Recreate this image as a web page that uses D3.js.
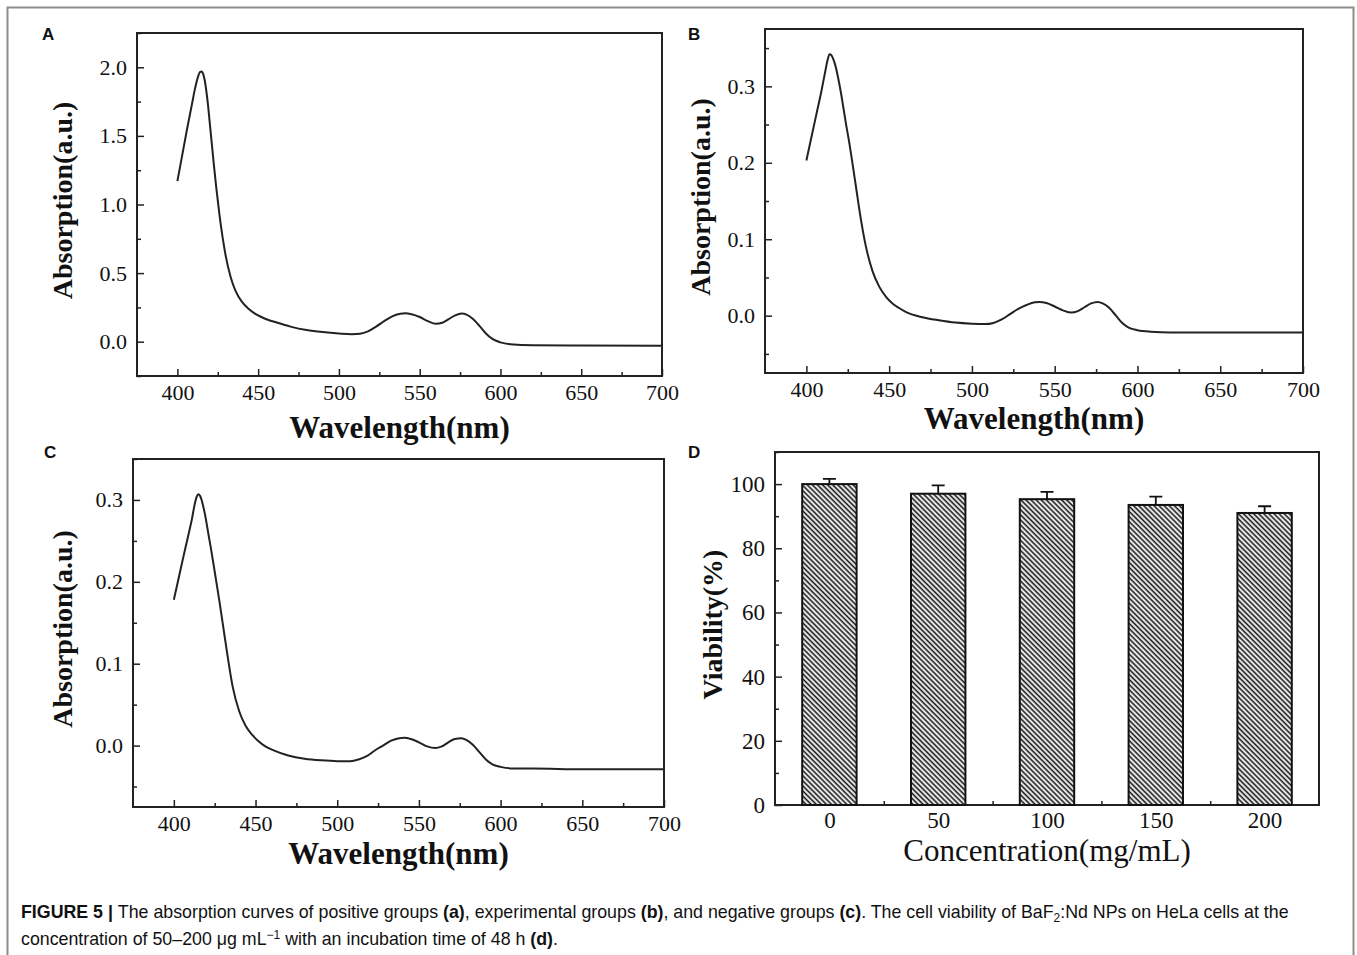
<!DOCTYPE html>
<html>
<head>
<meta charset="utf-8">
<script src="https://cdn.jsdelivr.net/npm/d3@7"></script>
<style>
body { margin: 0; background: #fff; }
svg text { font-family: "Liberation Serif", "Times New Roman", serif; fill: #111; }
svg text.sans { font-family: "Liberation Sans", Arial, sans-serif; }
</style>
</head>
<body>
<div id="figure"></div>
<script>
// wavelength grid shared by the three absorption spectra (nm)
const wavelengths = [400,403,406,409,411,413,414,415,416,417,418,419,420,421,422.5,424,426,428,430,
  433,436,440,444,448,452,456,460,470,480,490,500,508,513,518,523,528,533,538,541,545,550,555,560,
  564,568,572,576,579,583,587,591,595,600,608,620,650,700];

// positive group
const absorptionA = [1.17,1.36,1.55,1.73,1.85,1.94,1.965,1.97,1.95,1.90,1.82,1.72,1.60,1.48,1.30,1.13,0.93,0.76,0.62,
  0.47,0.37,0.29,0.24,0.205,0.18,0.16,0.145,0.11,0.085,0.07,0.06,0.055,0.058,0.075,0.11,0.15,0.185,0.203,0.207,0.2,0.18,0.15,0.13,
  0.138,0.165,0.192,0.205,0.197,0.165,0.115,0.06,0.02,-0.005,-0.02,-0.025,-0.028,-0.03];

// experimental group
const absorptionB = [0.203,0.233,0.263,0.293,0.315,0.336,0.342,0.341,0.337,0.331,0.323,0.313,0.302,0.29,0.27,0.25,0.225,0.197,0.168,
  0.125,0.09,0.058,0.038,0.025,0.016,0.01,0.005,-0.002,-0.006,-0.009,-0.0105,-0.011,-0.0095,-0.005,0.002,0.009,0.014,0.0175,0.018,0.0165,0.012,0.007,0.004,
  0.006,0.011,0.016,0.018,0.016,0.01,0.0,-0.01,-0.016,-0.019,-0.021,-0.022,-0.022,-0.022];

// negative group
const absorptionC = [0.178,0.205,0.232,0.258,0.276,0.297,0.304,0.307,0.305,0.300,0.292,0.283,0.272,0.26,0.243,0.225,0.2,0.175,0.148,
  0.108,0.072,0.042,0.024,0.013,0.005,-0.001,-0.005,-0.012,-0.016,-0.018,-0.019,-0.019,-0.017,-0.013,-0.006,0.0,0.006,0.009,0.0095,0.008,0.004,-0.001,-0.003,
  -0.001,0.004,0.008,0.009,0.007,0.001,-0.008,-0.017,-0.023,-0.026,-0.028,-0.028,-0.029,-0.029];

// cell viability
const concentrations = [0, 50, 100, 150, 200];
const viability = [100, 97, 95.3, 93.5, 91];
const viabilityErr = [1.6, 2.6, 2.3, 2.6, 2.1];

const waveTicks = [400, 450, 500, 550, 600, 650, 700];
const waveMinor = [425, 475, 525, 575, 625, 675];
const ticksA = [0, 0.5, 1.0, 1.5, 2.0];
const minorA = [-0.25, 0.25, 0.75, 1.25, 1.75, 2.25];
const ticksBC = [0, 0.1, 0.2, 0.3];
const minorBC = [-0.05, 0.05, 0.15, 0.25, 0.35];
const viabTicks = [0, 20, 40, 60, 80, 100];
const viabMinor = [10, 30, 50, 70, 90, 110];
const concMinor = [25, 75, 125, 175];

const W = 1357, H = 955;
const svg = d3.select("#figure").append("svg")
  .attr("width", W).attr("height", H);

svg.append("rect").attr("x", 0).attr("y", 0).attr("width", W).attr("height", H).attr("fill", "#fff");
// outer figure border
svg.append("rect")
  .attr("x", 7.5).attr("y", 7.5).attr("width", 1346).attr("height", 1000)
  .attr("fill", "none").attr("stroke", "#8c8c8c").attr("stroke-width", 2);

// draws frame, inward ticks and labels, returns {g, x, y}
function makePanel(p) {
  const g = svg.append("g");
  const x = d3.scaleLinear().domain(p.xDomain).range([p.left, p.right]);
  const y = d3.scaleLinear().domain(p.yDomain).range([p.bottom, p.top]);

  g.append("g").attr("transform", "translate(0," + p.bottom + ")")
    .call(d3.axisBottom(x).tickValues(p.xTicks).tickFormat(p.xFormat)
      .tickSizeInner(-7).tickSizeOuter(0).tickPadding(p.xPad));
  g.append("g").attr("transform", "translate(0," + p.bottom + ")")
    .call(d3.axisBottom(x).tickValues(p.xMinor).tickFormat("").tickSizeInner(-4).tickSizeOuter(0));

  g.append("g").attr("transform", "translate(" + p.left + ",0)")
    .call(d3.axisLeft(y).tickValues(p.yTicks).tickFormat(p.yFormat)
      .tickSizeInner(-7).tickSizeOuter(0).tickPadding(10));
  g.append("g").attr("transform", "translate(" + p.left + ",0)")
    .call(d3.axisLeft(y).tickValues(p.yMinor).tickFormat("").tickSizeInner(-4).tickSizeOuter(0));

  g.selectAll(".domain").remove();
  g.selectAll(".tick line").attr("stroke", "#222").attr("stroke-width", 1.5);
  g.selectAll(".tick text").attr("font-family", null).style("font-size", p.tickSize + "px").attr("fill", "#222");

  g.append("rect")
    .attr("x", p.left).attr("y", p.top)
    .attr("width", p.right - p.left).attr("height", p.bottom - p.top)
    .attr("fill", "none").attr("stroke", "#222").attr("stroke-width", 2);

  g.append("text")
    .attr("transform", "translate(" + p.yLabelX + "," + ((p.top + p.bottom) / 2 - 4) + ") rotate(-90)")
    .attr("text-anchor", "middle").attr("dy", "0.35em")
    .style("font-size", p.yLabelSize + "px").style("font-weight", "bold")
    .text(p.yLabel);

  g.append("text")
    .attr("x", (p.left + p.right) / 2).attr("y", p.xLabelY)
    .attr("text-anchor", "middle")
    .style("font-size", p.xLabelSize + "px").style("font-weight", p.xLabelWeight)
    .text(p.xLabel);

  g.append("text").attr("class", "sans")
    .attr("x", p.letterX).attr("y", p.letterY)
    .style("font-size", "17px").style("font-weight", "bold")
    .text(p.letter);

  return { g: g, x: x, y: y };
}

const fmt1 = d3.format(".1f");
const spectra = [
  { letter: "A", letterX: 42, letterY: 40, left: 137, right: 662, top: 33, bottom: 376,
    yDomain: [-0.25, 2.25], yTicks: ticksA, yMinor: minorA, yLabelX: 62, xLabelY: 438, values: absorptionA },
  { letter: "B", letterX: 688, letterY: 40, left: 765, right: 1303, top: 29, bottom: 373,
    yDomain: [-0.075, 0.375], yTicks: ticksBC, yMinor: minorBC, yLabelX: 700, xLabelY: 429, values: absorptionB },
  { letter: "C", letterX: 44, letterY: 458, left: 133, right: 664, top: 459, bottom: 807,
    yDomain: [-0.075, 0.35], yTicks: ticksBC, yMinor: minorBC, yLabelX: 62, xLabelY: 864, values: absorptionC }
];

spectra.forEach(function(s) {
  const panel = makePanel(Object.assign({
    xDomain: [375, 700], xTicks: waveTicks, xMinor: waveMinor, xFormat: d3.format("d"), xPad: 8,
    yFormat: fmt1, tickSize: 22, yLabel: "Absorption(a.u.)", yLabelSize: 28,
    xLabel: "Wavelength(nm)", xLabelSize: 31, xLabelWeight: "bold"
  }, s));
  const line = d3.line()
    .x(function(d, i) { return panel.x(wavelengths[i]); })
    .y(function(d) { return panel.y(d); })
    .curve(d3.curveMonotoneX);
  panel.g.append("path")
    .datum(s.values)
    .attr("d", line)
    .attr("fill", "none").attr("stroke", "#222").attr("stroke-width", 2);
});

// hatch pattern for the bars
const defs = svg.append("defs");
defs.append("pattern")
  .attr("id", "hatch").attr("patternUnits", "userSpaceOnUse")
  .attr("width", 3.6).attr("height", 3.6)
  .attr("patternTransform", "rotate(-45)")
  .call(function(pt) {
    pt.append("rect").attr("width", 3.6).attr("height", 3.6).attr("fill", "#fff");
    pt.append("line").attr("x1", 1.2).attr("y1", 0).attr("x2", 1.2).attr("y2", 3.6)
      .attr("stroke", "#1a1a1a").attr("stroke-width", 1.7);
  });

const panelD = makePanel({
  letter: "D", letterX: 688, letterY: 458, left: 775, right: 1319, top: 452, bottom: 805,
  xDomain: [-25, 225], xTicks: concentrations, xMinor: concMinor, xFormat: d3.format("d"), xPad: 7,
  yDomain: [0, 110], yTicks: viabTicks, yMinor: viabMinor, yFormat: d3.format("d"),
  tickSize: 23, yLabel: "Viability(%)", yLabelSize: 28, yLabelX: 712,
  xLabel: "Concentration(mg/mL)", xLabelSize: 31, xLabelWeight: "normal", xLabelY: 861
});

const barW = panelD.x(12.5) - panelD.x(-12.5);
panelD.g.selectAll(".bar")
  .data(viability)
  .enter().append("rect")
  .attr("class", "bar")
  .attr("x", function(d, i) { return panelD.x(concentrations[i]) - barW / 2; })
  .attr("y", function(d) { return panelD.y(d); })
  .attr("width", barW)
  .attr("height", function(d) { return panelD.y(0) - panelD.y(d); })
  .attr("fill", "url(#hatch)").attr("stroke", "#111").attr("stroke-width", 2);

panelD.g.selectAll(".err")
  .data(viability)
  .enter().append("path")
  .attr("class", "err")
  .attr("d", function(d, i) {
    const cx = panelD.x(concentrations[i]);
    const top = panelD.y(d + viabilityErr[i]);
    return "M" + cx + "," + panelD.y(d) + "V" + top + "M" + (cx - 6.5) + "," + top + "H" + (cx + 6.5);
  })
  .attr("fill", "none").attr("stroke", "#111").attr("stroke-width", 1.8);

// caption
const cap = svg.append("text").attr("class", "sans")
  .attr("x", 21).attr("y", 918)
  .style("font-size", "17.8px").attr("fill", "#333");
cap.append("tspan").style("font-weight", "bold").text("FIGURE 5 | ");
cap.append("tspan").text("The absorption curves of positive groups ");
cap.append("tspan").style("font-weight", "bold").text("(a)");
cap.append("tspan").text(", experimental groups ");
cap.append("tspan").style("font-weight", "bold").text("(b)");
cap.append("tspan").text(", and negative groups ");
cap.append("tspan").style("font-weight", "bold").text("(c)");
cap.append("tspan").text(". The cell viability of BaF");
cap.append("tspan").attr("dy", 4).style("font-size", "12px").text("2");
cap.append("tspan").attr("dy", -4).text(":Nd NPs on HeLa cells at the");

const cap2 = svg.append("text").attr("class", "sans")
  .attr("x", 21).attr("y", 945)
  .style("font-size", "17.8px").attr("fill", "#333");
cap2.append("tspan").text("concentration of 50–200 μg mL");
cap2.append("tspan").attr("dy", -6).style("font-size", "12px").text("−1");
cap2.append("tspan").attr("dy", 6).text(" with an incubation time of 48 h ");
cap2.append("tspan").style("font-weight", "bold").text("(d)");
cap2.append("tspan").text(".");
</script>
</body>
</html>
